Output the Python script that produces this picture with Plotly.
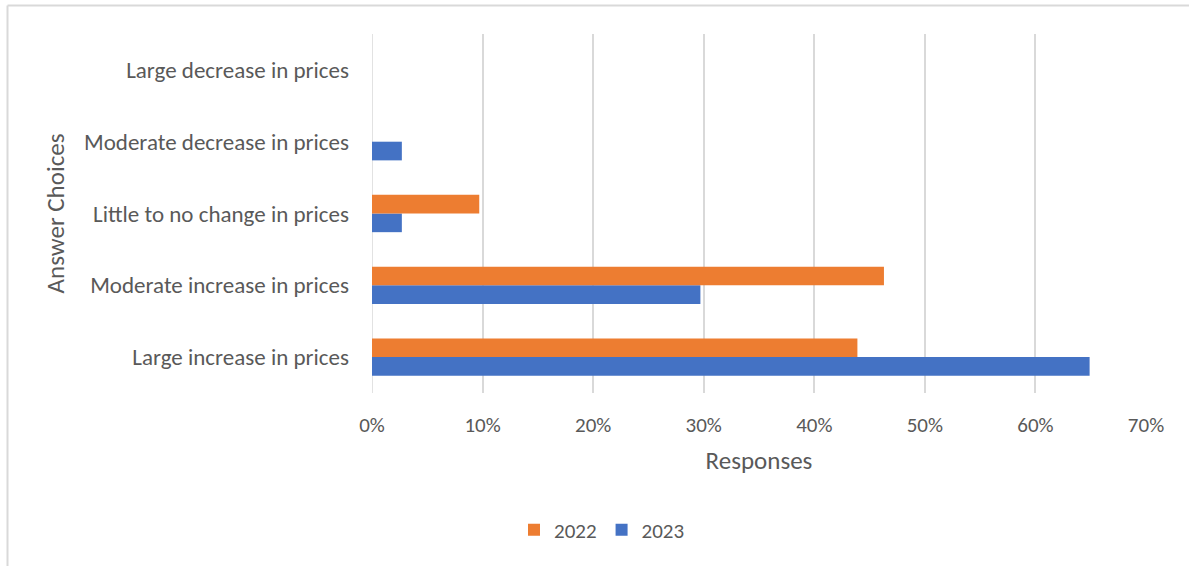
import plotly.graph_objects as go

categories = [
    "Large increase in prices",
    "Moderate increase in prices",
    "Little to no change in prices",
    "Moderate decrease in prices",
    "Large decrease in prices",
]
values_2022 = [0.439, 0.463, 0.097, 0.0, 0.0]
values_2023 = [0.649, 0.297, 0.027, 0.027, 0.0]

FONT = "Carlito, Calibri, Lato, sans-serif"
GRAY = "#595959"
GRID = "#d9d9d9"

W, H = 1189, 566
L, R, T, B = 372, 43, 34, 173
pw, ph = W - L - R, H - T - B

def px(x):
    return (x - L) / pw

def py(y):
    return (H - B - y) / ph

fig = go.Figure()
fig.add_trace(go.Bar(y=categories, x=values_2023, name="2023", orientation="h",
                     marker=dict(color="#4472c4", line=dict(width=0))))
fig.add_trace(go.Bar(y=categories, x=values_2022, name="2022", orientation="h",
                     marker=dict(color="#ed7d31", line=dict(width=0))))

fig.update_layout(
    width=W, height=H,
    margin=dict(l=L, r=R, t=T, b=B),
    paper_bgcolor="white", plot_bgcolor="white",
    barmode="group", bargap=0.48, bargroupgap=0,
    font=dict(family=FONT, size=22, color=GRAY),
    xaxis=dict(range=[0, 0.7], dtick=0.1, tickformat=".0%", showgrid=True,
               gridcolor=GRID, gridwidth=1.5, zeroline=False, showline=False,
               ticks="", ticklabelstandoff=17, tickfont=dict(size=21),
               title=dict(text="Responses", font=dict(size=25, color=GRAY), standoff=14)),
    yaxis=dict(showgrid=False, zeroline=False, showline=False, ticks="",
               ticklabelstandoff=22, categoryorder="array", categoryarray=categories,
               tickfont=dict(size=23),
               title=dict(text="Answer Choices", font=dict(size=25, color=GRAY), standoff=12)),
    legend=dict(orientation="h", x=px(602), y=py(530), xanchor="center", yanchor="middle",
                traceorder="reversed", font=dict(size=21, color=GRAY), itemwidth=30),
    showlegend=True,
)

# vertical line at 0 (axis)
fig.add_shape(type="line", xref="x", yref="paper", x0=0, x1=0, y0=0, y1=1,
              line=dict(color=GRID, width=1.5), layer="below")
# outer border (top and left)
fig.add_shape(type="line", xref="paper", yref="paper", x0=px(7.5), x1=px(1189), y0=py(5.5), y1=py(5.5),
              line=dict(color=GRID, width=2))
fig.add_shape(type="line", xref="paper", yref="paper", x0=px(7.5), x1=px(7.5), y0=py(5.5), y1=py(566),
              line=dict(color=GRID, width=2))

fig.write_html("out.html", config={"displayModeBar": False},
               post_script="document.body.style.margin='0';")
